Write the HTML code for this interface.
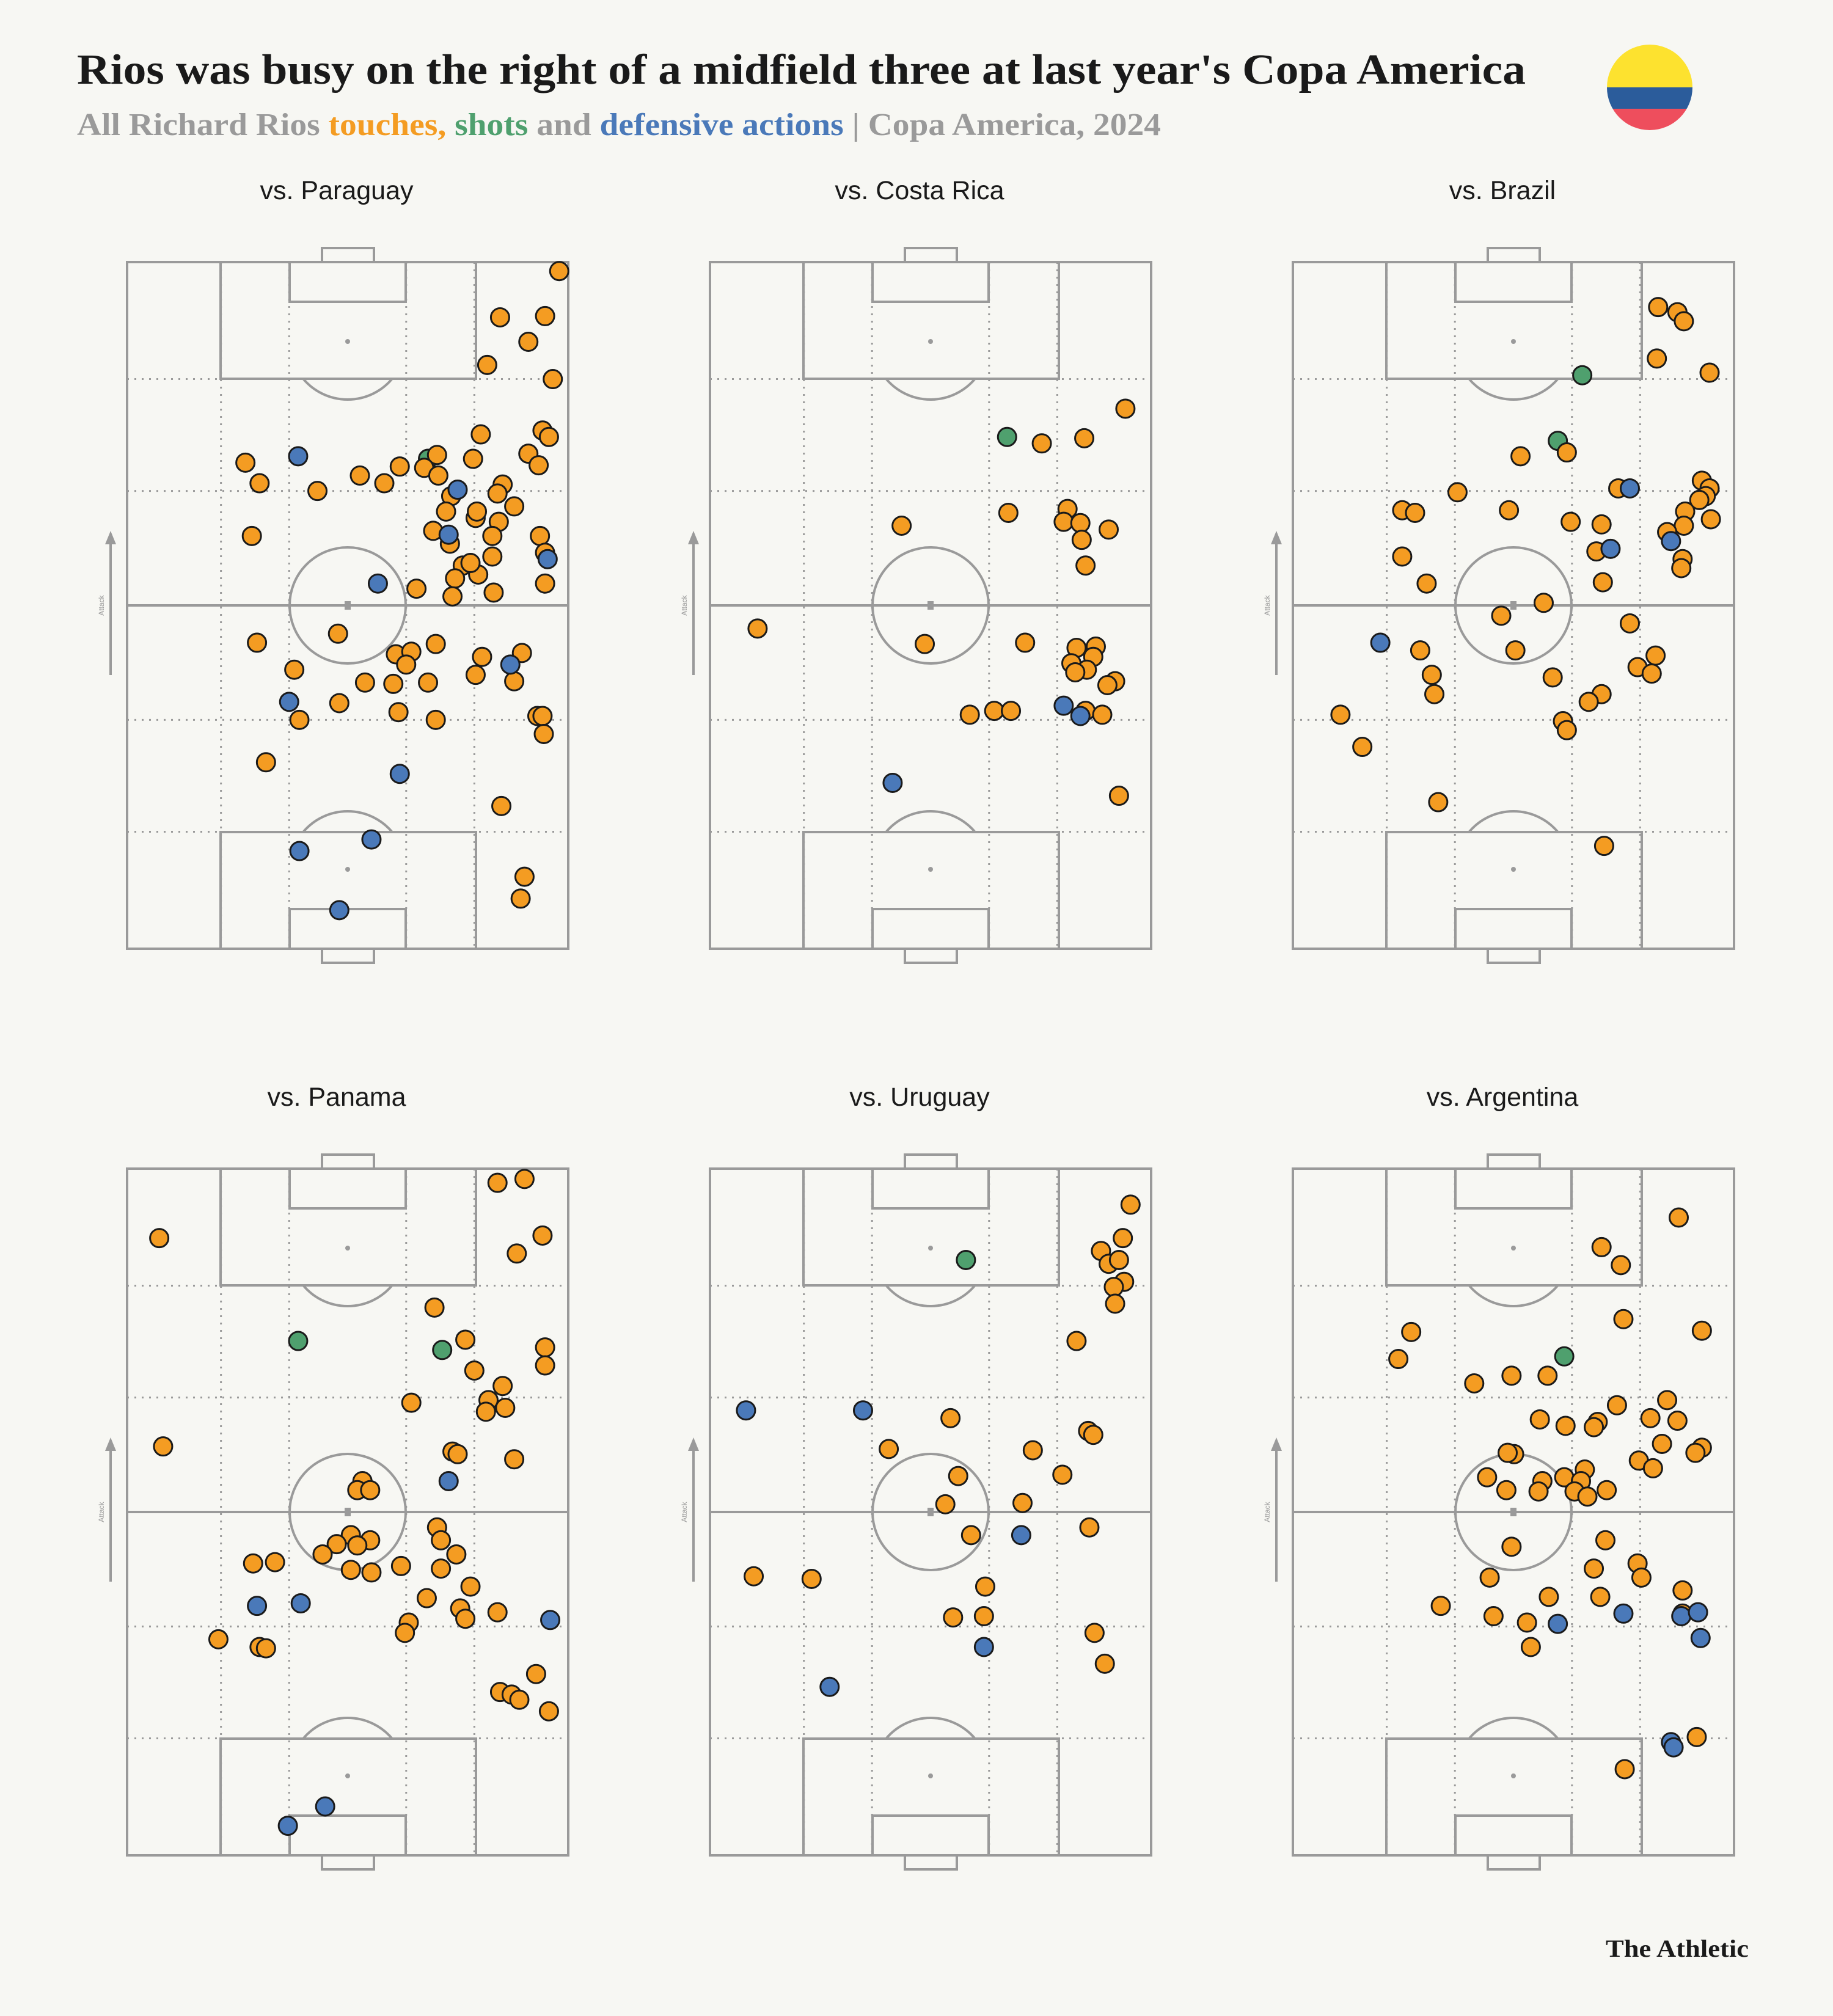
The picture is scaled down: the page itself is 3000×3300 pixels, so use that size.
<!DOCTYPE html>
<html><head><meta charset="utf-8"><style>
html,body{margin:0;padding:0;background:#F7F7F3;}
svg{display:block;}
</style></head><body>
<svg id="chart" width="3000" height="3300" viewBox="0 0 3000 3300" xmlns="http://www.w3.org/2000/svg">
<rect width="3000" height="3300" fill="#F7F7F3"/>
<text x="126" y="137" font-family="'Liberation Serif',serif" font-weight="bold" font-size="70" fill="#1a1a1a" textLength="2371" lengthAdjust="spacingAndGlyphs">Rios was busy on the right of a midfield three at last year's Copa America</text>
<text x="126" y="221" font-family="'Liberation Serif',serif" font-weight="bold" font-size="52" fill="#9a9a9a" textLength="1774" lengthAdjust="spacingAndGlyphs">All Richard Rios <tspan fill="#F49C22">touches,</tspan> <tspan fill="#4FA06E">shots</tspan> and <tspan fill="#4A79B9">defensive actions</tspan> | Copa America, 2024</text>
<g>
<clipPath id="fc"><circle cx="2700" cy="143" r="70"/></clipPath>
<g clip-path="url(#fc)">
<rect x="2630" y="73" width="140" height="70" fill="#FDE22F"/>
<rect x="2630" y="143" width="140" height="35" fill="#2B5C9B"/>
<rect x="2630" y="178" width="140" height="36" fill="#EE4E5D"/>
</g></g>
<text x="2862" y="3203" text-anchor="end" font-family="'Liberation Serif',serif" font-weight="bold" font-size="40" fill="#1a1a1a" textLength="234" lengthAdjust="spacingAndGlyphs">The Athletic</text>
<g id="panels"></g>
</svg>
<script>
// Data: pitch units, x 0-343 across (left to right), y 0-534 from attacking goal line
const opponents = ["Paraguay","Costa Rica","Brazil","Panama","Uruguay","Argentina"];
const touchesParaguay = [[336,7],[290,43],[325,42],[312,62],[280,80],[331,91],[275,134],[323,131],[328,136],[312,149],[320,158],[269,153],[92,156],[103,172],[148,178],[181,166],[200,172],[212,159],[241,150],[231,160],[242,166],[292,173],[288,180],[252,182],[301,190],[248,194],[271,199],[289,202],[97,213],[238,209],[251,219],[284,213],[272,194],[284,229],[273,243],[261,236],[255,246],[321,213],[325,226],[325,250],[225,254],[253,260],[285,257],[267,234],[101,296],[164,289],[209,305],[221,303],[217,313],[240,297],[130,317],[185,327],[207,328],[234,327],[276,307],[271,321],[307,304],[301,326],[165,343],[134,356],[211,350],[240,356],[319,353],[323,353],[324,367],[108,389],[291,423],[309,478],[306,495]];
const shotsParaguay = [[234,153]];
const defensiveParaguay = [[133,151],[257,177],[250,212],[327,231],[195,250],[298,313],[126,342],[212,398],[134,458],[190,449],[165,504]];
const touchesCostaRica = [[323,114],[258,141],[291,137],[149,205],[232,195],[278,192],[275,202],[288,203],[310,208],[289,216],[292,236],[37,285],[167,297],[245,296],[285,300],[300,299],[298,307],[281,312],[293,317],[284,319],[315,326],[309,329],[202,352],[221,349],[234,349],[292,349],[305,352],[318,415]];
const shotsCostaRica = [[231,136]];
const defensiveCostaRica = [[275,345],[288,353],[142,405]];
const touchesBrazil = [[284,35],[299,39],[304,46],[283,75],[324,86],[213,148],[177,151],[318,170],[324,176],[253,176],[128,179],[321,182],[316,185],[85,193],[95,195],[168,193],[305,194],[325,200],[216,202],[240,204],[304,205],[291,210],[236,225],[85,229],[303,231],[302,238],[241,249],[104,250],[195,265],[162,275],[262,281],[173,302],[99,302],[282,306],[268,315],[279,320],[108,321],[202,323],[110,336],[240,336],[230,342],[37,352],[210,357],[213,364],[54,377],[113,420],[242,454]];
const shotsBrazil = [[225,88],[206,139]];
const defensiveBrazil = [[262,176],[247,223],[294,217],[68,296]];
const touchesPanama = [[288,11],[309,8],[25,54],[323,52],[303,66],[239,108],[263,133],[325,139],[325,153],[270,157],[292,169],[281,180],[279,189],[294,186],[221,182],[28,216],[253,220],[257,222],[301,226],[183,243],[179,250],[189,250],[241,279],[174,285],[244,289],[163,292],[189,289],[179,293],[152,300],[256,300],[98,307],[115,306],[174,312],[190,314],[213,309],[244,311],[267,325],[233,334],[259,342],[263,350],[288,345],[219,353],[216,361],[71,366],[103,372],[108,373],[318,393],[290,407],[299,409],[305,413],[328,422]];
const shotsPanama = [[133,134],[245,141]];
const defensivePanama = [[250,243],[101,340],[135,338],[329,351],[154,496],[125,511]];
const touchesUruguay = [[327,28],[321,54],[304,64],[310,74],[318,71],[322,88],[314,92],[315,105],[285,134],[187,194],[294,204],[298,207],[139,218],[251,219],[193,239],[274,238],[183,261],[243,260],[295,279],[203,285],[34,317],[79,319],[214,325],[189,349],[213,348],[299,361],[307,385]];
const shotsUruguay = [[199,71]];
const defensiveUruguay = [[28,188],[119,188],[242,285],[213,372],[93,403]];
const touchesArgentina = [[300,38],[240,61],[255,75],[257,117],[318,126],[92,127],[82,148],[141,167],[170,161],[198,161],[252,184],[291,180],[237,197],[192,195],[212,200],[234,201],[278,194],[299,196],[287,214],[318,217],[313,221],[172,222],[167,221],[269,227],[280,233],[227,234],[151,240],[194,243],[211,240],[224,243],[166,250],[191,251],[219,251],[229,255],[244,250],[170,294],[243,289],[268,307],[271,318],[234,311],[153,318],[303,328],[239,333],[199,333],[115,340],[156,348],[182,353],[185,372],[303,346],[314,442],[258,467]];
const shotsArgentina = [[211,146]];
const defensiveArgentina = [[257,346],[302,348],[315,345],[206,354],[317,365],[294,446],[296,450]];

const touchesAll = [touchesParaguay,touchesCostaRica,touchesBrazil,touchesPanama,touchesUruguay,touchesArgentina];
const shotsAll = [shotsParaguay,shotsCostaRica,shotsBrazil,shotsPanama,shotsUruguay,shotsArgentina];
const defensiveAll = [defensiveParaguay,defensiveCostaRica,defensiveBrazil,defensivePanama,defensiveUruguay,defensiveArgentina];

const NS = "http://www.w3.org/2000/svg";
const PW = 722, PH = 1124, DW = 343, DH = 534;
const colLeft = [208, 1162, 2116], rowTop = [429, 1913];
function mk(tag, attrs, parent){const e=document.createElementNS(NS,tag);for(const k in attrs)e.setAttribute(k,attrs[k]);parent.appendChild(e);return e;}
const root = document.getElementById('panels');
const LINE = "#9a9a9a";

opponents.forEach((opp,i)=>{
  const L = colLeft[i%3], T = rowTop[Math.floor(i/3)];
  const sx = v => L + v/DW*PW;
  const sy = v => T + v/DH*PH;
  const g = mk('g',{},root);
  
  
  const t = mk('text',{x:L+PW/2-18,y:T-103,'text-anchor':'middle','font-family':"'Liberation Sans',sans-serif",'font-size':43,fill:'#1a1a1a'},g);
  t.textContent = 'vs. ' + opp;
  
  
  // dotted grid
  const dg = mk('g',{stroke:LINE,'stroke-width':3,'stroke-dasharray':'3 9',fill:'none'},g);
  
  
  [73,126,217,270].forEach(x=>mk('line',{x1:L+x/DW*PW,y1:T,x2:L+x/DW*PW,y2:T+PH},dg));
  [91,178,356,443].forEach(y=>mk('line',{x1:L,y1:T+y/DH*PH,x2:L+PW,y2:T+y/DH*PH},dg));
  // pitch lines
  const pl = mk('g',{stroke:LINE,'stroke-width':4,fill:'none'},g);
  
  
  mk('rect',{x:L,y:T,width:PW,height:PH},pl);
  mk('line',{x1:L,y1:T+PH/2,x2:L+PW,y2:T+PH/2},pl);
  mk('circle',{cx:L+PW/2,cy:T+PH/2,r:95},pl);
  const pbx = L+153, pbw = 418, pbd = 191, sbx = L+266, sbw = 190, sbd = 65, gx = L+319, gw = 85;
  mk('rect',{x:pbx,y:T,width:pbw,height:pbd},pl);
  mk('rect',{x:sbx,y:T,width:sbw,height:sbd},pl);
  mk('rect',{x:gx,y:T-23,width:gw,height:23},pl);
  mk('rect',{x:pbx,y:T+PH-pbd,width:pbw,height:pbd},pl);
  mk('rect',{x:sbx,y:T+PH-sbd,width:sbw,height:sbd},pl);
  mk('rect',{x:gx,y:T+PH,width:gw,height:23},pl);
  const cx = L+PW/2, spot = 130, r = 95, dy = pbd-spot, dx = Math.sqrt(r*r-dy*dy);
  mk('path',{d:`M${cx-dx},${T+pbd} A${r},${r} 0 0 0 ${cx+dx},${T+pbd}`},pl);
  mk('path',{d:`M${cx-dx},${T+PH-pbd} A${r},${r} 0 0 1 ${cx+dx},${T+PH-pbd}`},pl);
  mk('circle',{cx:cx,cy:T+spot,r:4,fill:LINE,stroke:'none'},pl);
  mk('circle',{cx:cx,cy:T+PH-spot,r:4,fill:LINE,stroke:'none'},pl);
  mk('rect',{x:cx-5,y:T+PH/2-7,width:10,height:14,fill:LINE,stroke:'none'},pl);
  // attack arrow
  const ag = mk('g',{},g);
  
  
  mk('line',{x1:L-27,y1:T+445,x2:L-27,y2:T+676,stroke:LINE,'stroke-width':4},ag);
  mk('path',{d:`M${L-36},${T+462} L${L-27},${T+440} L${L-18},${T+462} Z`,fill:LINE},ag);
  const at = mk('text',{x:L-38,y:T+562,'font-family':"'Liberation Sans',sans-serif",'font-size':12,fill:'#9a9a9a','text-anchor':'middle',transform:`rotate(-90 ${L-38} ${T+562})`},ag);
  at.textContent='Attack';
  // marks
  const drawSet = (arr, color, kind) => arr.forEach(p=>{
    const c = mk('circle',{cx:sx(p[0]),cy:sy(p[1]),r:15,fill:color,stroke:'#1a1a1a','stroke-width':3},g);
    
    
  });
  drawSet(shotsAll[i], '#4FA06E', 'shot');
  drawSet(touchesAll[i], '#F49C22', 'touch');
  drawSet(defensiveAll[i], '#4A79B9', 'defensive-action');
});
</script>
</body></html>
